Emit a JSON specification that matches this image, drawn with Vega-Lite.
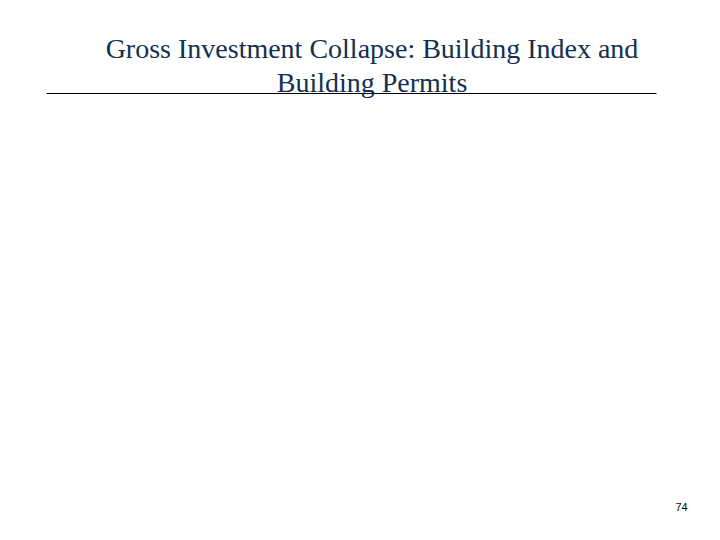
{
  "$schema": "https://vega.github.io/schema/vega-lite/v6.json",
  "autosize": "none",
  "width": 610,
  "height": 417,
  "padding": {"left": 46, "top": 93, "right": 64, "bottom": 30},
  "background": "white",
  "title": {
    "text": ["Gross Investment Collapse: Building Index and", "Building Permits"],
    "font": "Liberation Serif",
    "fontSize": 28,
    "fontWeight": "normal",
    "color": "#12304f",
    "anchor": "middle",
    "baseline": "alphabetic",
    "lineHeight": 34,
    "offset": -30,
    "dx": 21
  },
  "data": {"values": [{"x": 0, "y": 0}, {"x": 1, "y": 1}]},
  "mark": {"type": "point", "opacity": 0},
  "encoding": {
    "x": {
      "field": "x",
      "type": "quantitative",
      "axis": {
        "orient": "top",
        "domain": true,
        "domainColor": "#000000",
        "domainWidth": 1,
        "ticks": false,
        "labels": false,
        "grid": false,
        "title": null
      }
    },
    "y": {
      "field": "y",
      "type": "quantitative",
      "axis": {
        "orient": "right",
        "domain": false,
        "ticks": false,
        "labels": false,
        "grid": false,
        "title": "74",
        "titleAngle": 0,
        "titleAnchor": "start",
        "titleAlign": "left",
        "titleBaseline": "alphabetic",
        "titlePadding": 19,
        "titleFont": "Liberation Sans",
        "titleFontSize": 11,
        "titleFontWeight": "normal",
        "titleColor": "#000000"
      }
    }
  },
  "config": {"view": {"stroke": null}}
}
